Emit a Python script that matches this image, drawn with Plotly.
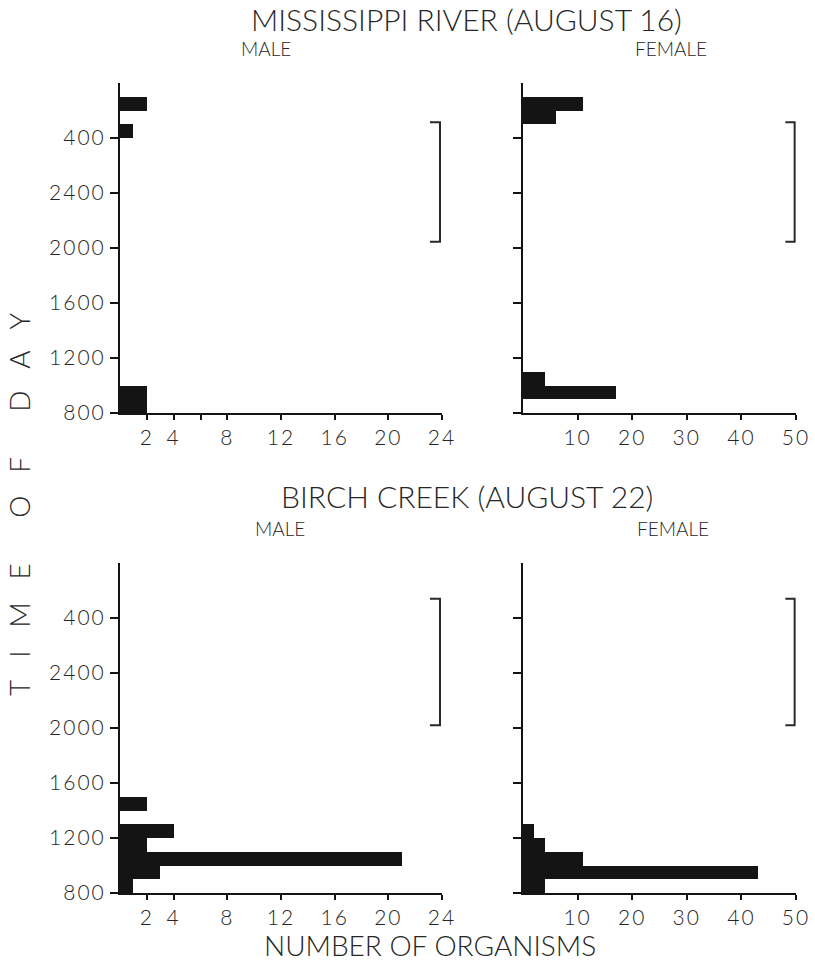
import plotly.graph_objects as go

# ---------------- data (hour bins; values >= 24 are after midnight) ----------------
ms_male_hours = [8, 9, 28, 30]
ms_male_counts = [2, 2, 1, 2]
ms_female_hours = [9, 10, 29, 30]
ms_female_counts = [17, 4, 6, 11]
bc_male_hours = [8, 9, 10, 11, 12, 14]
bc_male_counts = [1, 3, 21, 2, 4, 2]
bc_female_hours = [8, 9, 10, 11, 12]
bc_female_counts = [4, 43, 11, 4, 2]

time_tickvals = [8, 12, 16, 20, 24, 28]
time_ticktext = ["800", "1200", "1600", "2000", "2400", "400"]
male_tickvals_top = [2, 4, 6, 8, 12, 16, 20, 24]
male_ticktext_top = ["2", "4", "", "8", "12", "16", "20", "24"]
male_tickvals_bot = [2, 4, 8, 12, 16, 20, 24]
male_ticktext_bot = ["2", "4", "8", "12", "16", "20", "24"]
female_tickvals = [10, 20, 30, 40, 50]
female_ticktext = ["10", "20", "30", "40", "50"]

# darkness brackets (start, end in hours)
ms_dark = [20.45, 29.15]
bc_dark = [20.2, 29.4]

# ---------------- figure ----------------
W, H = 815, 963
FONT = "Lato"
TXT = "#262626"
INK = "#141414"


def spaced(labels):
    return [f'<span style="letter-spacing:2px">{t}</span>' if t else "" for t in labels]


fig = go.Figure()

panels = [
    ("x", "y", ms_male_hours, ms_male_counts),
    ("x2", "y2", ms_female_hours, ms_female_counts),
    ("x3", "y3", bc_male_hours, bc_male_counts),
    ("x4", "y4", bc_female_hours, bc_female_counts),
]
for xa, ya, hrs, cnt in panels:
    fig.add_trace(go.Bar(
        x=cnt, y=[h + 0.5 for h in hrs], width=[1] * len(hrs),
        orientation="h", marker=dict(color=INK, line=dict(width=0)),
        xaxis=xa, yaxis=ya, showlegend=False, hoverinfo="skip"))


def px_x(p):
    return p / W


def px_y(p):
    return 1 - p / H


male_dom = [px_x(120), px_x(442)]
fem_dom = [px_x(523), px_x(796)]
top_dom = [px_y(413), px_y(83)]
bot_dom = [px_y(893), px_y(563)]

tickfont = dict(family=FONT, size=21, color=TXT, weight=300)
common_x = dict(showline=True, linecolor=INK, linewidth=2, ticks="outside",
                ticklen=5, tickwidth=1.5, tickcolor=INK, showgrid=False,
                zeroline=False, tickfont=tickfont, fixedrange=True,
                automargin=False, tickmode="array")
common_y = dict(showline=True, linecolor=INK, linewidth=2, ticks="outside",
                ticklen=8, tickwidth=1.5, tickcolor=INK, showgrid=False,
                zeroline=False, tickfont=tickfont, range=[8, 32],
                tickmode="array", tickvals=time_tickvals, fixedrange=True,
                automargin=False)

fig.update_layout(
    xaxis=dict(common_x, domain=male_dom, range=[0, 24], anchor="y",
               tickvals=male_tickvals_top, ticktext=spaced(male_ticktext_top)),
    yaxis=dict(common_y, domain=top_dom, anchor="x", ticktext=spaced(time_ticktext)),
    xaxis2=dict(common_x, domain=fem_dom, range=[0, 50], anchor="y2",
                tickvals=female_tickvals, ticktext=spaced(female_ticktext)),
    yaxis2=dict(common_y, domain=top_dom, anchor="x2", showticklabels=False),
    xaxis3=dict(common_x, domain=male_dom, range=[0, 24], anchor="y3",
                tickvals=male_tickvals_bot, ticktext=spaced(male_ticktext_bot)),
    yaxis3=dict(common_y, domain=bot_dom, anchor="x3", ticktext=spaced(time_ticktext)),
    xaxis4=dict(common_x, domain=fem_dom, range=[0, 50], anchor="y4",
                tickvals=female_tickvals, ticktext=spaced(female_ticktext)),
    yaxis4=dict(common_y, domain=bot_dom, anchor="x4", showticklabels=False),
    width=W, height=H, margin=dict(l=0, r=0, t=0, b=0, autoexpand=False),
    paper_bgcolor="white", plot_bgcolor="white", bargap=0,
    font=dict(family=FONT, color=TXT),
)

# darkness brackets
shapes = []
for xa, ya, xpos, tick, dark in [("x", "y", 23.85, 0.75, ms_dark),
                                 ("x2", "y2", 49.75, 1.7, ms_dark),
                                 ("x3", "y3", 23.85, 0.75, bc_dark),
                                 ("x4", "y4", 49.75, 1.7, bc_dark)]:
    shapes.append(dict(type="path", xref=xa, yref=ya,
                       path=f"M {xpos - tick},{dark[1]} L {xpos},{dark[1]} L {xpos},{dark[0]} L {xpos - tick},{dark[0]}",
                       line=dict(color="#2a2a2a", width=2)))
fig.update_layout(shapes=shapes)

ann = []


def text(x, y, s, size, angle=0, weight=300):
    ann.append(dict(x=px_x(x), y=px_y(y), xref="paper", yref="paper", text=s,
                    showarrow=False, xanchor="center", yanchor="middle",
                    textangle=angle,
                    font=dict(family=FONT, size=size, color=TXT, weight=weight)))


text(466, 19, "MISSISSIPPI RIVER (AUGUST 16)", 30)
text(266, 48, "MALE", 19)
text(671, 48, "FEMALE", 19)
text(467, 496, "BIRCH CREEK (AUGUST 22)", 30)
text(280, 528, "MALE", 19)
text(673, 528, "FEMALE", 19)
text(430, 945, "NUMBER OF ORGANISMS", 28)
text(19, 505, "T   I   M   E      O   F      D   A   Y", 28, angle=-90)
fig.update_layout(annotations=ann)

fig.write_html("out.html")
